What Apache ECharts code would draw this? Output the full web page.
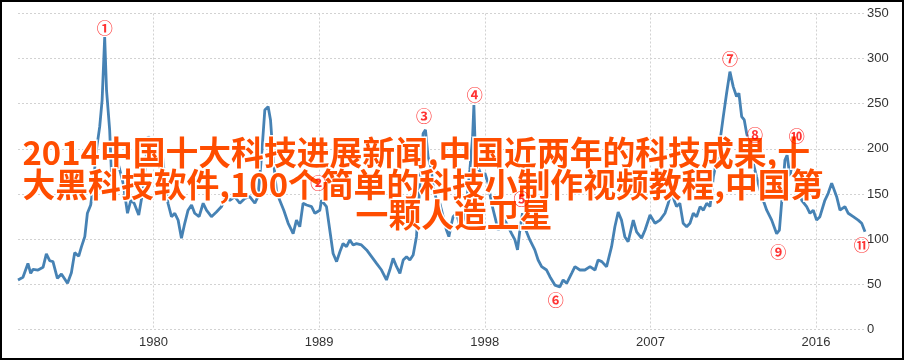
<!DOCTYPE html>
<html>
<head>
<meta charset="utf-8">
<script src="https://cdn.jsdelivr.net/npm/echarts@6/dist/echarts.min.js"></script>
<style>
html,body{margin:0;padding:0;background:#fff;}
#frame{position:absolute;left:0;top:0;width:904px;height:360px;box-sizing:border-box;border:2px solid #000;}
#chart{position:absolute;left:0;top:0;width:905px;height:360px;}
</style>
</head>
<body>
<div id="frame"></div>
<div id="chart"></div>
<script>
// x positions in decimal years
const years = [1972.64,1972.91,1973.18,1973.33,1973.46,1973.73,1974.00,1974.18,1974.36,1974.54,1974.78,1975.00,1975.33,1975.54,1975.72,1975.94,1976.09,1976.27,1976.41,1976.59,1976.72,1976.90,1977.08,1977.21,1977.35,1977.45,1977.62,1977.72,1977.86,1977.99,1978.17,1978.35,1978.59,1978.77,1978.95,1979.20,1979.43,1979.71,1979.89,1980.10,1980.40,1980.61,1980.79,1980.98,1981.16,1981.34,1981.52,1981.70,1981.88,1982.07,1982.24,1982.48,1982.70,1982.88,1983.15,1983.42,1983.70,1983.88,1984.15,1984.42,1984.69,1984.96,1985.23,1985.51,1985.68,1985.87,1986.05,1986.23,1986.36,1986.50,1986.68,1986.86,1987.08,1987.32,1987.50,1987.59,1987.77,1987.95,1988.13,1988.32,1988.59,1988.77,1989.04,1989.13,1989.40,1989.58,1989.76,1989.95,1990.13,1990.30,1990.49,1990.67,1990.85,1991.03,1991.30,1991.58,1991.85,1992.12,1992.39,1992.66,1992.84,1993.02,1993.21,1993.39,1993.57,1993.75,1993.93,1994.11,1994.29,1994.47,1994.65,1994.78,1994.92,1995.07,1995.20,1995.38,1995.56,1995.74,1995.92,1996.05,1996.20,1996.28,1996.47,1996.65,1996.83,1997.01,1997.19,1997.34,1997.41,1997.52,1997.64,1997.83,1998.01,1998.18,1998.37,1998.55,1998.73,1998.91,1999.09,1999.27,1999.46,1999.64,1999.78,1999.91,2000.05,2000.23,2000.45,2000.72,2000.90,2001.09,2001.36,2001.54,2001.81,2002.08,2002.26,2002.45,2002.72,2002.90,2003.17,2003.44,2003.72,2003.99,2004.16,2004.36,2004.62,2004.89,2005.07,2005.25,2005.43,2005.61,2005.79,2006.07,2006.25,2006.52,2006.71,2006.98,2007.25,2007.52,2007.79,2007.97,2008.15,2008.29,2008.42,2008.60,2008.78,2008.97,2009.15,2009.33,2009.51,2009.70,2009.88,2010.06,2010.24,2010.42,2010.61,2010.79,2010.96,2011.14,2011.32,2011.50,2011.68,2011.81,2011.96,2012.10,2012.23,2012.41,2012.58,2012.77,2012.96,2013.13,2013.32,2013.59,2013.86,2014.01,2014.14,2014.31,2014.43,2014.58,2014.73,2014.85,2015.03,2015.22,2015.49,2015.67,2015.85,2016.03,2016.21,2016.48,2016.66,2016.85,2017.12,2017.30,2017.57,2017.75,2018.02,2018.29,2018.48,2018.66];

const values = [54.6,57.6,73,62,66.5,65.7,68.7,83.5,76,75,56.5,61.3,51,62.7,85,81,91.6,102.7,128.6,137.8,158,198.8,224.6,254,324,265,221,173,143,191,176.6,162,128.6,143,139.7,126.7,154,213.5,210,190,210,169,139.7,124.8,128.6,121,101,117.5,132,137.8,128.6,124.8,139.7,132,124.8,130,136,147,143,147,139.7,145,147,139.7,147,191,243,246.8,232,191,154,143,132,117.5,110,106,121,113.7,139.7,137.8,136,128.6,132,143,136,110,84,75,86,95,91.6,99,93.5,95,93.5,88,80.5,73,65.7,54.7,65.7,78.7,69.4,62,76.8,80.5,76.8,82.4,102.7,158,217,221,191,180,158,143,139.7,124.8,110,102.7,117.5,124.8,128.6,113.7,121,139.7,176.6,213.5,248.6,176.6,180,169,173,162,139.7,124.8,110,113.7,121,113.7,106,99,88,110,128.6,110,99,88,76.8,69.4,65.7,58.3,49,47,54.7,51,62,69.4,65.7,65.7,69.4,65.7,76.8,75,69.4,91.6,113.7,130,121,102.7,97,121,108,101,110,126.7,117.5,121,128.6,139.7,154,143,136,139.7,117.5,113.7,117.5,128.6,124.8,136,132,139.7,136,169,187.6,210,235.7,261.6,285.6,269,258,261.6,235.7,232,217,202,185,169,154,143,132,121,106,110,143,187.6,193,169,187.6,180,158,143,136,128.6,132,121,124.8,143,150.7,162,147,132,136,128.6,124.8,121,117.5,108];

const xTicks = [1980, 1989, 1998, 2007, 2016];
const yTicks = [0, 50, 100, 150, 200, 250, 300, 350];

const annoYears = [1977.35, 1988.95, 1994.70, 1997.46, 2000.00, 2001.86, 2011.32, 2012.68, 2013.95, 2014.95, 2018.48];
const annoValues = [334, 162, 237, 260, 144, 33, 300, 215, 86, 214, 94];
const annoLabels = ['①','②','③','④','⑤','⑥','⑦','⑧','⑨','⑩','⑪'];

const titleLines = ['2014中国十大科技进展新闻,中国近两年的科技成果,十', '大黑科技软件,100个简单的科技小制作视频教程,中国第', '一颗人造卫星'];

const chart = echarts.init(document.getElementById('chart'), null, {renderer: 'canvas'});
const axisFont = {color: '#333', fontSize: 13, fontFamily: 'Liberation Sans, Arial, sans-serif'};
const gridLine = {show: true, lineStyle: {color: '#d2d2d2', type: [2, 2], width: 1}};
const titleFont = 'bold 32.8px "Noto Sans CJK SC"';

chart.setOption({
  animation: false,
  backgroundColor: 'transparent',
  grid: {left: 18, right: 40, top: 13.5, bottom: 30.7, containLabel: false},
  xAxis: {
    type: 'value', min: years[0], max: years[years.length - 1],
    axisLine: {show: false},
    axisTick: {show: false, customValues: xTicks},
    axisLabel: Object.assign({customValues: xTicks, margin: 7, formatter: v => String(Math.round(v))}, axisFont),
    splitLine: gridLine
  },
  yAxis: {
    type: 'value', position: 'right', min: yTicks[0], max: yTicks[yTicks.length - 1], interval: 50,
    axisLine: {show: false}, axisTick: {show: false},
    axisLabel: Object.assign({margin: 2}, axisFont),
    splitLine: gridLine
  },
  series: [
    {
      type: 'line', data: years.map((y, i) => [y, values[i]]),
      showSymbol: false, symbol: 'none', smooth: false,
      lineStyle: {color: '#4682b4', width: 2.8}, z: 2
    },
    {
      type: 'scatter', data: annoYears.map((y, i) => ({value: [y, annoValues[i]], name: annoLabels[i]})),
      symbolSize: 0.1, itemStyle: {color: 'transparent'}, z: 10,
      label: {show: true, position: 'inside', formatter: p => p.name, color: '#ff0000',
        fontSize: 16, fontWeight: 'bold', fontFamily: 'Noto Sans CJK SC'}
    }
  ],
  graphic: [
    {type: 'text', z: 5, left: 21, top: 135, style: {text: titleLines[0], fill: '#ff4d00', stroke: '#fff', lineWidth: 3, font: titleFont}},
    {type: 'text', z: 5, left: 21, top: 167, style: {text: titleLines[1], fill: '#ff4d00', stroke: '#fff', lineWidth: 3, font: titleFont}},
    {type: 'text', z: 5, x: 454, y: 198, style: {text: titleLines[2], fill: '#ff4d00', stroke: '#fff', lineWidth: 3, font: titleFont, textAlign: 'center'}}
  ]
});
</script>
</body>
</html>
